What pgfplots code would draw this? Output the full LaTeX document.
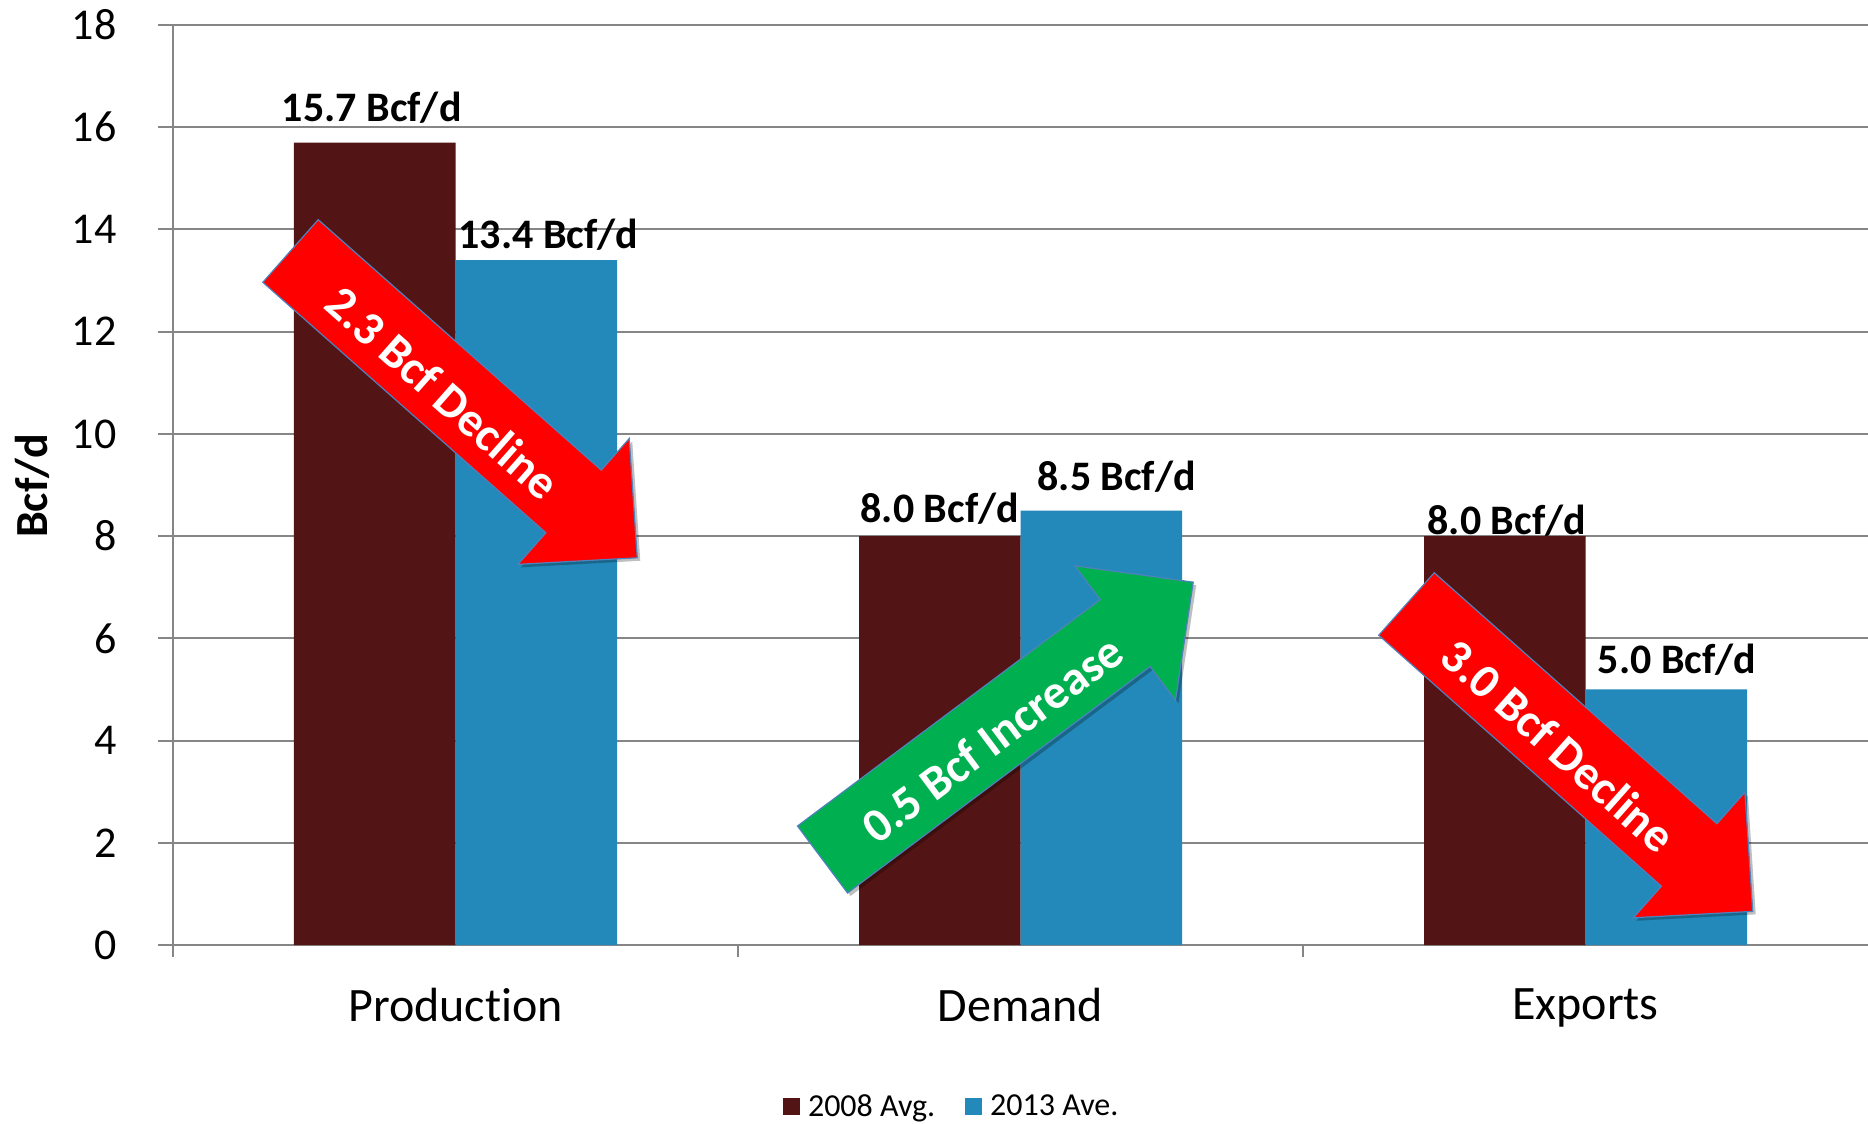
\documentclass[border=0pt]{standalone}
\usepackage{fontspec}
\setmainfont{Carlito}[Ligatures={NoCommon}]
\usepackage{pgfplots}
\pgfplotsset{compat=1.18}
\usepackage{pgfplotstable}
\usetikzlibrary{shadows}

\definecolor{avgold}{RGB}{82,20,20}
\definecolor{avenew}{RGB}{34,137,186}
\definecolor{gridgray}{RGB}{134,134,134}
\definecolor{declinered}{RGB}{255,0,0}
\definecolor{increasegreen}{RGB}{0,176,80}
\definecolor{arrowedge}{RGB}{79,129,189}

% x = category index, y = Bcf/d, dx/dy = label offset from the bar top (pt)
\pgfplotstableread{
x y dx dy
0 15.7 -1.5 17.3
1 8.0 0 13.7
2 8.0 1 7.7
}\tableavg
\pgfplotstableread{
x y dx dy
0 13.4 6 12.5
1 8.5 7.7 17
2 5.0 5.4 14.7
}\tableave

% block arrow: #1 tail centre, #2 angle, #3 fill colour, #4 text
\newcommand{\blockarrow}[4]{%
  \begin{scope}[shift={#1}, rotate=#2]
    \filldraw[fill=#3, draw=arrowedge, line width=0.6pt, line join=miter,
      drop shadow={shadow xshift=1.5pt, shadow yshift=-1.5pt, opacity=0.25, fill=black}]
      (0pt,20.9pt) -- (189pt,20.9pt) -- (189pt,42pt) -- (231.5pt,0pt)
      -- (189pt,-42pt) -- (189pt,-20.9pt) -- (0pt,-20.9pt) -- cycle;
    \node[transform shape, text=white, inner sep=0pt,
      font=\bfseries\fontsize{24}{28}\selectfont] at (104pt,-2.5pt) {#4};
  \end{scope}}

\begin{document}
\begin{tikzpicture}
\useasboundingbox (0pt,0pt) rectangle (934pt,562pt);
\begin{axis}[
  at={(86.5pt,89.5pt)}, anchor=south west,
  scale only axis, width=847.5pt, height=460pt,
  xmin=-0.5, xmax=2.5, ymin=0, ymax=18,
  ybar=0pt, bar width=80.75pt,
  axis x line*=bottom, axis y line*=left,
  axis line style={draw=gridgray, line width=1pt, -},
  tick align=outside,
  xtick={0,1,2}, xticklabels={Production,Demand,Exports},
  major x tick style={draw=none},
  minor xtick={-0.5,0.5,1.5},
  minor x tick style={draw=gridgray, line width=1pt},
  minor tick length=6pt,
  ytick={0,2,...,18},
  major tick length=7.5pt,
  y tick style={draw=gridgray, line width=1pt},
  ymajorgrids, grid style={draw=gridgray, line width=1pt},
  /pgf/number format/assume math mode=true,
  yticklabel style={font=\fontsize{22}{26}\selectfont, xshift=-17.3pt},
  xticklabel style={font=\fontsize{24}{28}\selectfont, yshift=-10.7pt},
  ylabel={Bcf/d},
  ylabel style={font=\bfseries\fontsize{23}{27}\selectfont,
    at={(axis description cs:-0.0832,0.499)}, anchor=center},
  legend style={at={(0.46,-0.176)}, anchor=center, draw=none, fill=none,
    font=\fontsize{16}{19}\selectfont, legend columns=2,
    /tikz/every even column/.append style={column sep=13pt}},
  legend image code/.code={\fill[#1, draw=none] (0pt,-4.25pt) rectangle (8.5pt,4.25pt);
    \path (10.5pt,0pt);},
  visualization depends on={\thisrow{dx} \as \labeldx},
  visualization depends on={\thisrow{dy} \as \labeldy},
  nodes near coords={\pgfmathprintnumber[fixed,fixed zerofill,precision=1,assume math mode=true]{\pgfplotspointmeta}~Bcf/d},
  every node near coord/.append style={anchor=center, xshift=\labeldx pt, yshift=\labeldy pt,
    font=\bfseries\fontsize{21}{25}\selectfont, text=black},
]
\addplot[fill=avgold, draw=none] table[x=x, y=y] {\tableavg};
\addlegendentry{2008 Avg.}
\addplot[fill=avenew, draw=none] table[x=x, y=y] {\tableave};
\addlegendentry{2013 Ave.}
\end{axis}
% change annotations
\blockarrow{(145.25pt,436.5pt)}{-41.5}{declinered}{2.3 Bcf Decline}
\blockarrow{(411.25pt,132.25pt)}{36.8}{increasegreen}{0.5 Bcf Increase}
\blockarrow{(703.25pt,260pt)}{-41.6}{declinered}{3.0 Bcf Decline}
\end{tikzpicture}
\end{document}
